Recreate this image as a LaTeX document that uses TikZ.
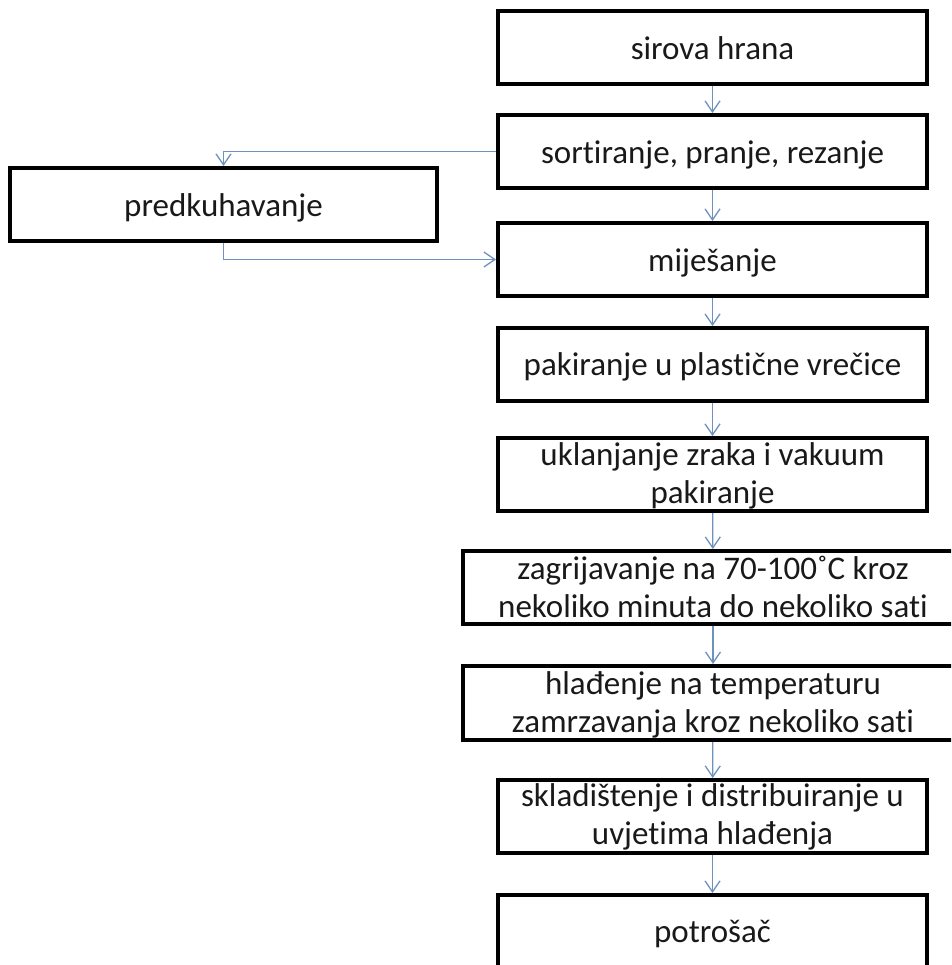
\documentclass[tikz,border=0pt]{standalone}
\usepackage{fontspec}
\setmainfont{Carlito}[Ligatures=NoCommon]
\usetikzlibrary{arrows.meta}
\definecolor{arr}{RGB}{110,145,190}
\definecolor{txt}{RGB}{25,25,25}
\begin{document}
\begin{tikzpicture}[x=1pt,y=-1pt,
  box/.style={draw=black, line width=4pt, minimum width=429pt, minimum height=73pt, inner sep=0pt},
  widebox/.style={box, minimum width=500pt},
  lbl/.style={anchor=base, inner sep=0pt, align=center, text=txt, font=\fontsize{33}{37.5}\selectfont},
  link/.style={draw=arr, line width=1.3pt, -{Straight Barb[length=11pt,width=15pt]}}]
\useasboundingbox (0,0) rectangle (951,965);
\clip (0,0) rectangle (951,965);
\node[box] (b1) at (712.5,48) {};
\node[box] (b2) at (712.5,151.5) {};
\node[box] (b3) at (712.5,259.5) {};
\node[box] (b4) at (712.5,364.5) {};
\node[box] (b5) at (712.5,474.5) {};
\node[widebox] (b6) at (713,587.5) {};
\node[widebox, minimum height=74pt] (b7) at (713,703) {};
\node[box] (b8) at (712.5,816.5) {};
\node[box] (b9) at (712.5,931.5) {};
\node[box, minimum width=427pt] (pred) at (223.5,204.5) {};
\node[lbl] (t1) at ([yshift=-12pt]b1.center) {sirova hrana};
\node[lbl] (t2) at ([yshift=-12pt]b2.center) {sortiranje, pranje, rezanje};
\node[lbl] (t3) at ([yshift=-12pt]b3.center) {miješanje};
\node[lbl] (t4) at ([yshift=-11pt]b4.center) {pakiranje u plastične vrečice};
\node[lbl] (t5) at ([yshift=-28.5pt]b5.center) {uklanjanje zraka i vakuum\\pakiranje};
\node[lbl] (t6) at ([yshift=-29.5pt]b6.center) {zagrijavanje na 70-100˚C kroz\\nekoliko minuta do nekoliko sati};
\node[lbl] (t7) at ([yshift=-29pt]b7.center) {hlađenje na temperaturu\\zamrzavanja kroz nekoliko sati};
\node[lbl] (t8) at ([yshift=-27.5pt]b8.center) {skladištenje i distribuiranje u\\uvjetima hlađenja};
\node[lbl] (t9) at ([yshift=-11pt]b9.center) {potrošač};
\node[lbl] (tp) at ([yshift=-12pt]pred.center) {predkuhavanje};
\draw[link] (b1) -- (b2);
\draw[link] (b2) -- (b3);
\draw[link] (b3) -- (b4);
\draw[link] (b4) -- (b5);
\draw[link] (b5) -- (b6);
\draw[link] (b6) -- (b7);
\draw[link] (b7) -- (b8);
\draw[link] (b8) -- (b9);
\draw[link] (b2.west) -| (pred.north);
\draw[link] (pred.south) |- (b3.west);
\end{tikzpicture}
\end{document}
